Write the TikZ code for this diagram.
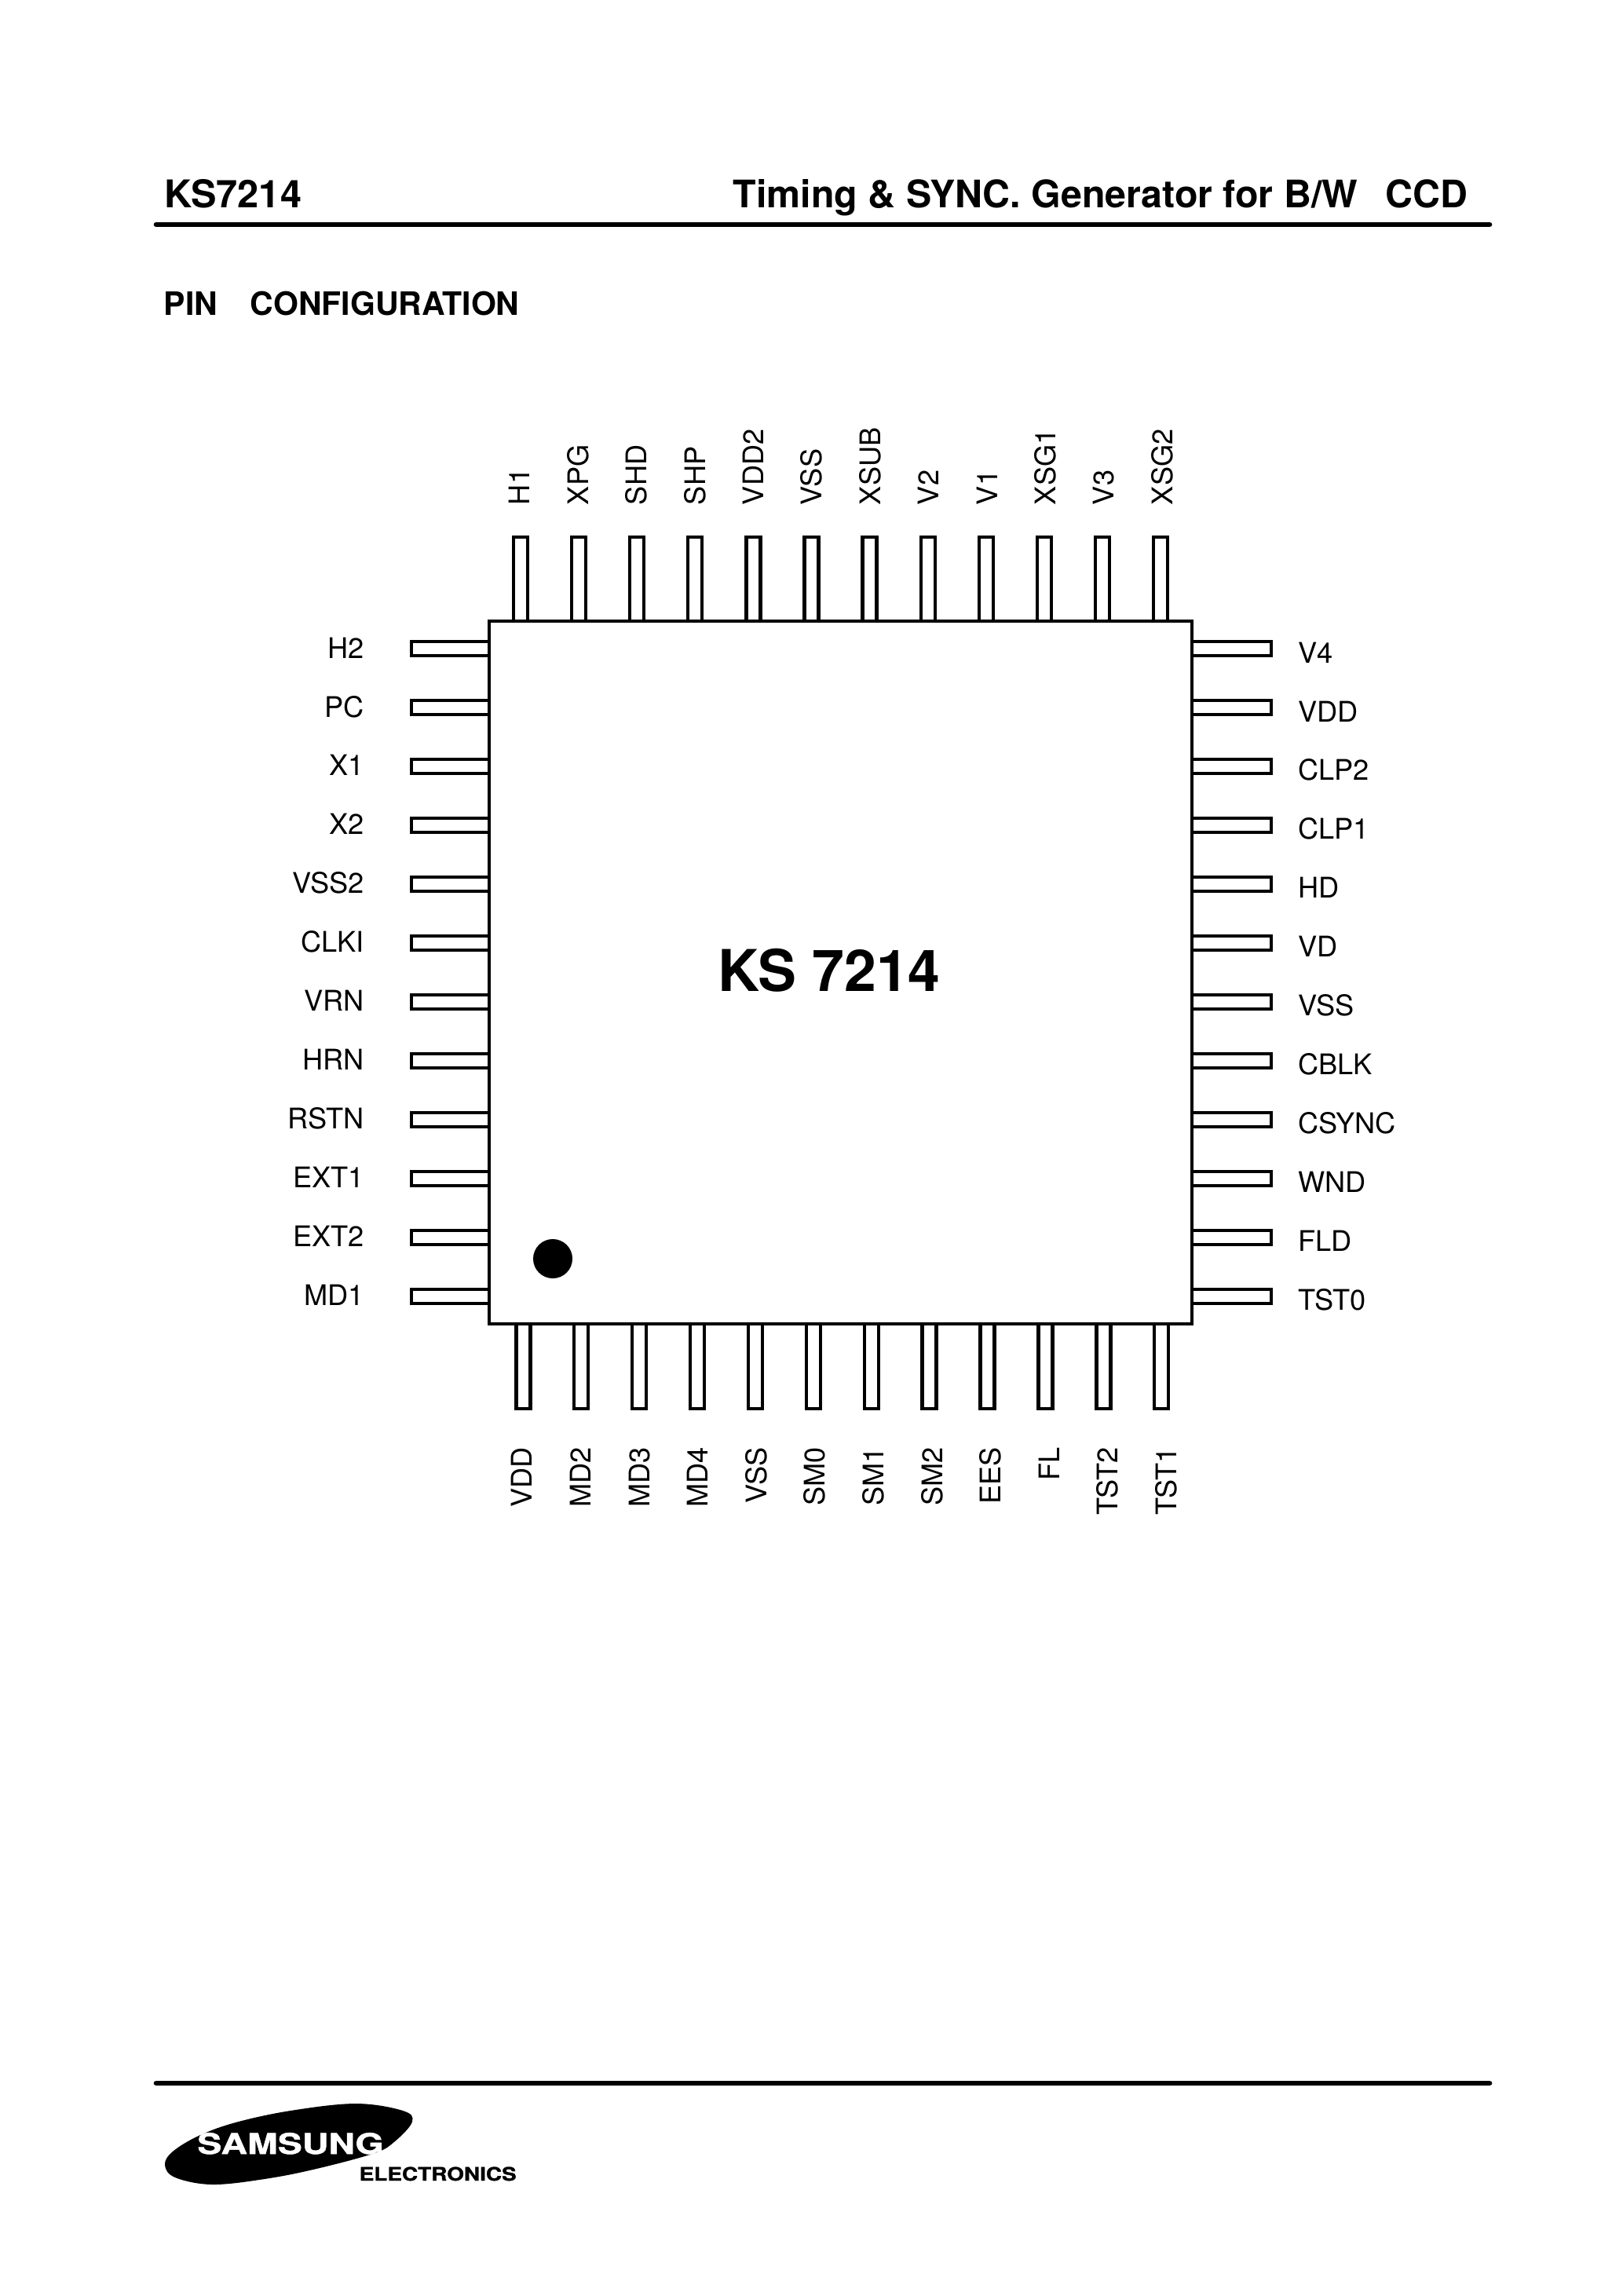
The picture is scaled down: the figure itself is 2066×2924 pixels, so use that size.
\documentclass[tikz,border=0pt]{standalone}
\usepackage{fontspec}
\setmainfont{TeX Gyre Heros}
\newfontfamily\logofont[FakeBold=1.2]{TeX Gyre Heros Bold}
\usetikzlibrary{positioning}

\begin{document}
\begin{tikzpicture}[
        x=0.3pt, y=-0.3pt,
        chipbox/.style={draw, line width=1.3pt, minimum size=268.5pt, inner sep=0pt, outer sep=0pt},
        pinbox/.style={draw, line width=1.3pt, inner sep=0pt, outer sep=0pt},
        toppin/.style={pinbox, minimum width=5.4pt, minimum height=32.1pt, anchor=south, node distance=16.83pt},
        bottompin/.style={pinbox, minimum width=5.4pt, minimum height=32.4pt, anchor=north, node distance=16.77pt},
        leftpin/.style={pinbox, minimum width=29.7pt, minimum height=5.4pt, anchor=east, node distance=17.1pt},
        rightpin/.style={pinbox, minimum width=30.3pt, minimum height=5.4pt, anchor=west, node distance=17.1pt},
        pinlabel/.style={font=\fontsize{10.85pt}{12pt}\selectfont, inner sep=0pt, outer sep=0pt, text height=7.7pt, text depth=0pt},
        toplabel/.style={pinlabel, rotate=90, anchor=west},
        bottomlabel/.style={pinlabel, rotate=90, anchor=east},
        leftlabel/.style={pinlabel, anchor=east},
        rightlabel/.style={pinlabel, anchor=west},
        headline/.style={font=\bfseries\fontsize{14.6pt}{16pt}\selectfont, inner sep=0pt, anchor=base west},
        rule/.style={line width=2pt, line cap=round}
    ]
    \useasboundingbox (0,0) rectangle (2066,2924);

    % Header
    \node[headline] (partno) at (209,265) {KS7214};
    \node[headline, anchor=base east, font=\bfseries\fontsize{14.5pt}{16pt}\selectfont] (title) at (1870,265) {Timing \& SYNC. Generator for B/W\hspace{0.735em}CCD};
    \node[headline, font=\bfseries\fontsize{12.3pt}{14pt}\selectfont] (section) at (208,402) {PIN\hspace{1.02em}CONFIGURATION};
    \coordinate (topruleleft) at (199,286);
    \coordinate (toperuleright) at (1897,286);
    \draw[rule] (topruleleft) -- (toperuleright);

    % Chip
    \node[chipbox] (chip) at (1070.5,1238.5) {};
    \node[inner sep=0pt, anchor=base, font=\bfseries\fontsize{22pt}{24pt}\selectfont] (chipname) at (1056,1262) {KS 7214};
    \node[circle, fill=black, minimum size=15pt, inner sep=0pt] (dot) at (704,1603) {};

    % Top pins
    \node[toppin] (h1) at ([xshift=12pt]chip.north west) {};
    \node[toppin, right=of h1] (xpg) {};
    \node[toppin, right=of xpg] (shd) {};
    \node[toppin, right=of shd] (shp) {};
    \node[toppin, right=of shp] (vdd2) {};
    \node[toppin, right=of vdd2] (vss) {};
    \node[toppin, right=of vss] (xsub) {};
    \node[toppin, right=of xsub] (v2) {};
    \node[toppin, right=of v2] (v1) {};
    \node[toppin, right=of v1] (xsg1) {};
    \node[toppin, right=of xsg1] (v3) {};
    \node[toppin, right=of v3] (xsg2) {};

    % Left pins
    \node[leftpin] (h2) at ([yshift=-10.5pt]chip.north west) {};
    \node[leftpin, below=of h2] (pc) {};
    \node[leftpin, below=of pc] (x1) {};
    \node[leftpin, below=of x1] (x2) {};
    \node[leftpin, below=of x2] (vss2) {};
    \node[leftpin, below=of vss2] (clki) {};
    \node[leftpin, below=of clki] (vrn) {};
    \node[leftpin, below=of vrn] (hrn) {};
    \node[leftpin, below=of hrn] (rstn) {};
    \node[leftpin, below=of rstn] (ext1) {};
    \node[leftpin, below=of ext1] (ext2) {};
    \node[leftpin, below=of ext2] (md1) {};

    % Right pins
    \node[rightpin] (v4) at ([yshift=-10.5pt]chip.north east) {};
    \node[rightpin, below=of v4] (vdd) {};
    \node[rightpin, below=of vdd] (clp2) {};
    \node[rightpin, below=of clp2] (clp1) {};
    \node[rightpin, below=of clp1] (hd) {};
    \node[rightpin, below=of hd] (vd) {};
    \node[rightpin, below=of vd] (vssr) {};
    \node[rightpin, below=of vssr] (cblk) {};
    \node[rightpin, below=of cblk] (csync) {};
    \node[rightpin, below=of csync] (wnd) {};
    \node[rightpin, below=of wnd] (fld) {};
    \node[rightpin, below=of fld] (tst0) {};

    % Bottom pins
    \node[bottompin] (vddb) at ([xshift=13pt]chip.south west) {};
    \node[bottompin, right=of vddb] (md2) {};
    \node[bottompin, right=of md2] (md3) {};
    \node[bottompin, right=of md3] (md4) {};
    \node[bottompin, right=of md4] (vssb) {};
    \node[bottompin, right=of vssb] (sm0) {};
    \node[bottompin, right=of sm0] (sm1) {};
    \node[bottompin, right=of sm1] (sm2) {};
    \node[bottompin, right=of sm2] (ees) {};
    \node[bottompin, right=of ees] (fl) {};
    \node[bottompin, right=of fl] (tst2) {};
    \node[bottompin, right=of tst2] (tst1) {};

    % Top labels
    \node[toplabel] (h1text) at ([xshift=-0.3pt, yshift=12.3pt]h1.north) {H1};
    \node[toplabel] (xpgtext) at ([xshift=22.32pt]h1text.west) {XPG};
    \node[toplabel] (shdtext) at ([xshift=22.32pt]xpgtext.west) {SHD};
    \node[toplabel] (shptext) at ([xshift=22.32pt]shdtext.west) {SHP};
    \node[toplabel] (vdd2text) at ([xshift=22.32pt]shptext.west) {VDD2};
    \node[toplabel] (vsstext) at ([xshift=22.32pt]vdd2text.west) {VSS};
    \node[toplabel] (xsubtext) at ([xshift=22.32pt]vsstext.west) {XSUB};
    \node[toplabel] (v2text) at ([xshift=22.32pt]xsubtext.west) {V2};
    \node[toplabel] (v1text) at ([xshift=22.32pt]v2text.west) {V1};
    \node[toplabel] (xsg1text) at ([xshift=22.32pt]v1text.west) {XSG1};
    \node[toplabel] (v3text) at ([xshift=22.32pt]xsg1text.west) {V3};
    \node[toplabel] (xsg2text) at ([xshift=22.32pt]v3text.west) {XSG2};

    % Left labels
    \node[leftlabel] (h2text) at ([xshift=-18pt, yshift=0.2pt]h2.west) {H2};
    \node[leftlabel] (pctext) at ([yshift=-22.47pt]h2text.east) {PC};
    \node[leftlabel] (x1text) at ([yshift=-22.47pt]pctext.east) {X1};
    \node[leftlabel] (x2text) at ([yshift=-22.47pt]x1text.east) {X2};
    \node[leftlabel] (vss2text) at ([yshift=-22.47pt]x2text.east) {VSS2};
    \node[leftlabel] (clkitext) at ([yshift=-22.47pt]vss2text.east) {CLKI};
    \node[leftlabel] (vrntext) at ([yshift=-22.47pt]clkitext.east) {VRN};
    \node[leftlabel] (hrntext) at ([yshift=-22.47pt]vrntext.east) {HRN};
    \node[leftlabel] (rstntext) at ([yshift=-22.47pt]hrntext.east) {RSTN};
    \node[leftlabel] (ext1text) at ([yshift=-22.47pt]rstntext.east) {EXT1};
    \node[leftlabel] (ext2text) at ([yshift=-22.47pt]ext1text.east) {EXT2};
    \node[leftlabel] (md1text) at ([yshift=-22.47pt]ext2text.east) {MD1};

    % Right labels
    \node[rightlabel] (v4text) at ([xshift=10.3pt, yshift=-1.6pt]v4.east) {V4};
    \node[rightlabel] (vddtext) at ([yshift=-22.47pt]v4text.west) {VDD};
    \node[rightlabel] (clp2text) at ([yshift=-22.47pt]vddtext.west) {CLP2};
    \node[rightlabel] (clp1text) at ([yshift=-22.47pt]clp2text.west) {CLP1};
    \node[rightlabel] (hdtext) at ([yshift=-22.47pt]clp1text.west) {HD};
    \node[rightlabel] (vdtext) at ([yshift=-22.47pt]hdtext.west) {VD};
    \node[rightlabel] (vssrtext) at ([yshift=-22.47pt]vdtext.west) {VSS};
    \node[rightlabel] (cblktext) at ([yshift=-22.47pt]vssrtext.west) {CBLK};
    \node[rightlabel] (csynctext) at ([yshift=-22.47pt]cblktext.west) {CSYNC};
    \node[rightlabel] (wndtext) at ([yshift=-22.47pt]csynctext.west) {WND};
    \node[rightlabel] (fldtext) at ([yshift=-22.47pt]wndtext.west) {FLD};
    \node[rightlabel] (tst0text) at ([yshift=-22.47pt]fldtext.west) {TST0};

    % Bottom labels
    \node[bottomlabel] (vddbtext) at ([xshift=-0.4pt, yshift=-14.7pt]vddb.south) {VDD};
    \node[bottomlabel] (md2text) at ([xshift=22.38pt]vddbtext.east) {MD2};
    \node[bottomlabel] (md3text) at ([xshift=22.38pt]md2text.east) {MD3};
    \node[bottomlabel] (md4text) at ([xshift=22.38pt]md3text.east) {MD4};
    \node[bottomlabel] (vssbtext) at ([xshift=22.38pt]md4text.east) {VSS};
    \node[bottomlabel] (sm0text) at ([xshift=22.38pt]vssbtext.east) {SM0};
    \node[bottomlabel] (sm1text) at ([xshift=22.38pt]sm0text.east) {SM1};
    \node[bottomlabel] (sm2text) at ([xshift=22.38pt]sm1text.east) {SM2};
    \node[bottomlabel] (eestext) at ([xshift=22.38pt]sm2text.east) {EES};
    \node[bottomlabel] (fltext) at ([xshift=22.38pt]eestext.east) {FL};
    \node[bottomlabel] (tst2text) at ([xshift=22.38pt]fltext.east) {TST2};
    \node[bottomlabel] (tst1text) at ([xshift=22.38pt]tst2text.east) {TST1};

    % Footer
    \coordinate (bottomruleleft) at (199,2653);
    \coordinate (bottomruleright) at (1897,2653);
    \draw[rule] (bottomruleleft) -- (bottomruleright);
    \fill plot[smooth cycle, tension=0.6] coordinates {(525,2702) (513,2688) (453,2679) (370,2688) (300,2703) (253,2720) (220,2740) (210,2757) (223,2773) (270,2782) (337,2775) (403,2762) (477,2742) (503,2727)};
    \node[text=white, inner sep=0pt, anchor=base, font=\logofont\fontsize{10.9pt}{12pt}\selectfont] (samsung) at (370,2743) {\scalebox{1.28}[1]{SAMSUNG}};
    \node[inner sep=0pt, anchor=base west, font=\logofont\fontsize{7.1pt}{8pt}\selectfont] (electronics) at (457,2777) {\scalebox{1.18}[1]{ELECTRONICS}};

    \end{tikzpicture}
\end{document}
